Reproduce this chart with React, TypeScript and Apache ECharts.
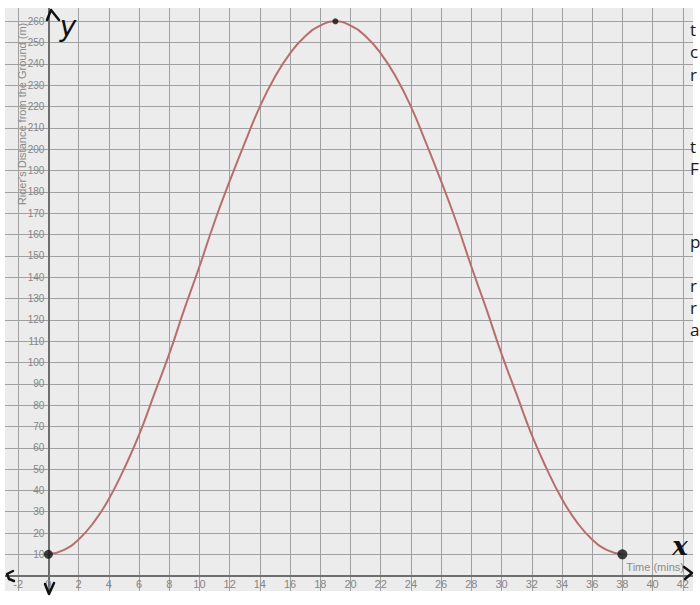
import React, { useEffect, useRef } from 'react';
import * as echarts from 'echarts';

// Time (mins) and rider's height above ground (m)
const minutes = [0, 1, 2, 3, 4, 5, 6, 7, 8, 9, 10, 11, 12, 13, 14, 15, 16, 17, 18, 19,
  20, 21, 22, 23, 24, 25, 26, 27, 28, 29, 30, 31, 32, 33, 34, 35, 36, 37, 38];
const heights = [10, 12, 17, 25, 36, 50, 66, 85, 104, 125, 145, 166, 185, 203, 220, 234, 245, 253, 258, 260,
  258, 253, 245, 234, 220, 203, 185, 166, 145, 125, 104, 85, 66, 50, 36, 25, 17, 12, 10];

// Marked points (black dots)
const markTimes = [0, 19, 38];
const markHeights = [10, 260, 10];

// Axis ranges
const xMin = -4, xMax = 44, xStep = 2, xLabelMin = -2, xLabelMax = 42;
const yMin = -10, yMax = 270, yStep = 10, yLabelMin = 10, yLabelMax = 260;

const xTitle = 'Time (mins)';
const yTitle = "Rider's Distance from the Ground (m)";
const sideLetters = ['t', 'c', 'r', 't', 'F', 'p', 'r', 'r', 'a'];

export default function App() {
  const ref = useRef<HTMLDivElement>(null);
  useEffect(() => {
    if (!ref.current) return;
    const chart = echarts.init(ref.current, null, { renderer: 'svg' });
    const markSizes = [9, 6, 10];
    const sideY = [29, 51, 74, 146, 168, 241, 285, 307, 329];
    const ink = { stroke: '#111', lineWidth: 2.5, fill: 'none', lineCap: 'round', lineJoin: 'round' };
    const gridLeft = -12, gridRight = -13, gridTop = 0, gridBottom = 8;
    const plotW = 700 - gridLeft - gridRight;
    const plotH = 605 - gridTop - gridBottom;
    // distance from grid edges to the zero lines
    const yAxisOffset = -((0 - xMin) / (xMax - xMin)) * plotW;
    const xAxisOffset = -((0 - yMin) / (yMax - yMin)) * plotH;
    const graphic: any[] = [
      { type: 'rect', z: 50, shape: { x: 0, y: 0, width: 700, height: 8 }, style: { fill: '#fff' } },
      { type: 'rect', z: 50, shape: { x: 0, y: 591, width: 700, height: 14 }, style: { fill: '#fff' } },
      { type: 'rect', z: 50, shape: { x: 0, y: 0, width: 5, height: 605 }, style: { fill: '#fff' } },
      { type: 'rect', z: 50, shape: { x: 693, y: 0, width: 7, height: 605 }, style: { fill: '#fff' } },
      {
        type: 'text', z: 60, x: 22, y: 114, rotation: Math.PI / 2,
        style: { text: yTitle, fill: '#8a8a8a', font: '11px "Liberation Sans", Arial, sans-serif', textAlign: 'center', textVerticalAlign: 'middle' }
      },
      {
        type: 'text', z: 60, x: 684, y: 567,
        style: { text: xTitle, fill: '#8a8a8a', font: '11px "Liberation Sans", Arial, sans-serif', textAlign: 'right', textVerticalAlign: 'middle' }
      },
      // hand-drawn marks
      { type: 'polyline', z: 70, shape: { points: [[47, 20], [51, 10], [59, 20]] }, style: ink },
      {
        type: 'text', z: 70, x: 68, y: 26,
        style: { text: 'y', fill: '#111', font: 'italic 28px "DejaVu Sans", sans-serif', textAlign: 'center', textVerticalAlign: 'middle' }
      },
      {
        type: 'text', z: 70, x: 680, y: 546,
        style: { text: 'x', fill: '#111', font: 'italic bold 26px "DejaVu Serif", serif', textAlign: 'center', textVerticalAlign: 'middle' }
      },
      { type: 'polyline', z: 70, shape: { points: [[13, 571], [7, 574], [9, 579], [14, 581]] }, style: ink },
      { type: 'polyline', z: 70, shape: { points: [[45, 584], [49, 594], [54, 583]] }, style: ink },
      { type: 'polyline', z: 70, shape: { points: [[684, 567], [692, 573], [685, 579]] }, style: ink },
    ];
    sideLetters.forEach((ch, i) => {
      graphic.push({
        type: 'text', z: 80, x: 690, y: sideY[i],
        style: { text: ch, fill: '#1a1a1a', font: '17px "Open Sans", sans-serif', textAlign: 'left', textVerticalAlign: 'middle' }
      });
    });

    chart.setOption({
      animation: false,
      grid: {
        left: gridLeft, right: gridRight, top: gridTop, bottom: gridBottom, show: true, backgroundColor: '#ececec', borderWidth: 0,
        containLabel: false, outerBoundsMode: 'none'
      },
      xAxis: {
        type: 'value', min: xMin, max: xMax, interval: xStep, position: 'bottom', offset: xAxisOffset,
        axisLine: { onZero: false, lineStyle: { color: '#6e6e6e', width: 2 } },
        axisTick: { show: false },
        splitLine: { show: true, lineStyle: { color: '#a0a0a0', width: 1 } },
        axisLabel: {
          show: true, margin: 3, color: '#868686', fontSize: 11, fontFamily: '"Liberation Sans", Arial, sans-serif',
          hideOverlap: false, showMinLabel: true, showMaxLabel: true,
          formatter: (v: number) => (v >= xLabelMin && v <= xLabelMax ? String(v) : '')
        }
      },
      yAxis: {
        type: 'value', min: yMin, max: yMax, interval: yStep, position: 'left', offset: yAxisOffset,
        axisLine: { onZero: false, lineStyle: { color: '#6e6e6e', width: 2 } },
        axisTick: { show: false },
        splitLine: { show: true, lineStyle: { color: '#a0a0a0', width: 1 } },
        axisLabel: {
          margin: 4, color: '#868686', fontSize: 10, fontFamily: '"Liberation Sans", Arial, sans-serif',
          formatter: (v: number) => (v >= yLabelMin && v <= yLabelMax ? String(v) : '')
        }
      },
      series: [
        {
          type: 'line', smooth: true, showSymbol: false, symbol: 'none', z: 3,
          lineStyle: { color: '#b76f6d', width: 2 },
          data: minutes.map((m, i) => [m, heights[i]])
        },
        {
          type: 'scatter', z: 4,
          itemStyle: { color: '#111' },
          data: markTimes.map((t, i) => ({ value: [t, markHeights[i]], symbolSize: markSizes[i] }))
        }
      ],
      graphic
    });
    return () => chart.dispose();
  }, []);
  return <div ref={ref} style={{ width: 700, height: 605, position: 'absolute', left: 0, top: 0 }} />;
}
